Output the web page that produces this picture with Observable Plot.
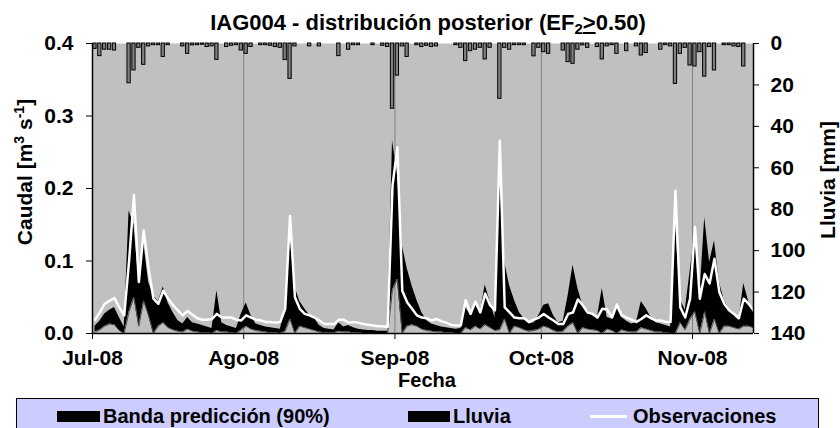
<!DOCTYPE html>
<html><head><meta charset="utf-8">
<script src="https://cdn.jsdelivr.net/npm/d3@7"></script>
<script src="https://cdn.jsdelivr.net/npm/@observablehq/plot@0.6"></script>
<style>
body{margin:0;background:#fff;font-family:"Liberation Sans",Arial,sans-serif;font-weight:bold;color:#000;}
#wrap{position:relative;width:840px;height:428px;overflow:hidden;}
#chart{position:absolute;left:0;top:0;}
#title{position:absolute;left:8px;top:12px;width:840px;text-align:center;font-size:22px;line-height:22px;white-space:nowrap;}
#title .sub{font-size:0.68em;position:relative;top:0.3em;}
#legend{position:absolute;left:16px;top:398px;width:803px;height:40px;box-sizing:border-box;border:1px solid #000;background:#ccccff;}
.sw{position:absolute;}
.lt{position:absolute;top:7px;font-size:20px;line-height:20px;white-space:nowrap;}
</style></head>
<body><div id="wrap">
<div id="chart"></div>
<div id="title">IAG004 - distribución posterior (EF<span class="sub">2</span><u>&gt;</u>0.50)</div>
<div id="legend"></div>
</div>
<script>
// ---- data (daily, starting 2008-07-01) ----
const obs = [
0.019,0.029,0.041,0.045,0.049,0.036,0.025,0.100,0.191,0.071,
0.142,0.089,0.048,0.041,0.059,0.048,0.039,0.032,0.025,0.031,
0.026,0.021,0.019,0.019,0.020,0.027,0.022,0.022,0.022,0.019,
0.018,0.025,0.022,0.019,0.018,0.016,0.016,0.015,0.016,0.034,
0.162,0.050,0.034,0.027,0.025,0.022,0.018,0.013,0.013,0.013,
0.019,0.019,0.015,0.016,0.015,0.013,0.012,0.011,0.010,0.010,
0.009,0.204,0.257,0.059,0.043,0.034,0.025,0.022,0.021,0.018,
0.020,0.017,0.015,0.012,0.011,0.011,0.046,0.027,0.044,0.029,
0.055,0.039,0.032,0.266,0.036,0.029,0.022,0.021,0.021,0.016,
0.019,0.022,0.027,0.022,0.018,0.013,0.013,0.027,0.029,0.047,
0.039,0.029,0.027,0.022,0.034,0.033,0.022,0.040,0.025,0.022,
0.019,0.016,0.020,0.025,0.021,0.018,0.018,0.016,0.016,0.197,
0.036,0.022,0.048,0.147,0.048,0.082,0.069,0.103,0.057,0.041,
0.032,0.027,0.021,0.048,0.041,0.032];
const bandHigh = [
0.010,0.017,0.027,0.032,0.036,0.022,0.009,0.169,0.150,0.071,
0.126,0.071,0.052,0.044,0.064,0.042,0.029,0.018,0.013,0.022,
0.015,0.013,0.011,0.009,0.007,0.059,0.015,0.011,0.009,0.007,
0.027,0.042,0.025,0.013,0.011,0.009,0.008,0.007,0.006,0.034,
0.135,0.064,0.044,0.034,0.025,0.021,0.011,0.007,0.006,0.005,
0.015,0.009,0.011,0.008,0.006,0.005,0.004,0.004,0.003,0.003,
0.003,0.266,0.220,0.121,0.090,0.066,0.046,0.029,0.018,0.013,
0.011,0.009,0.008,0.007,0.006,0.007,0.036,0.025,0.039,0.029,
0.067,0.044,0.022,0.210,0.098,0.066,0.046,0.029,0.020,0.013,
0.015,0.025,0.039,0.041,0.025,0.015,0.017,0.052,0.094,0.062,
0.039,0.032,0.025,0.022,0.062,0.022,0.020,0.034,0.022,0.017,
0.013,0.015,0.044,0.034,0.022,0.015,0.013,0.011,0.009,0.154,
0.048,0.032,0.085,0.138,0.052,0.160,0.098,0.128,0.071,0.046,
0.034,0.025,0.018,0.069,0.044,0.029];
const bandLow = [
0.002,0.005,0.010,0.013,0.012,0.004,0.000,0.030,0.050,0.010,
0.045,0.025,0.000,0.010,0.015,0.008,0.005,0.003,0.002,0.006,
0.003,0.002,0.001,0.001,0.000,0.004,0.002,0.002,0.001,0.000,
0.005,0.010,0.006,0.004,0.003,0.002,0.001,0.001,0.000,0.003,
0.020,0.000,0.010,0.008,0.006,0.004,0.002,0.001,0.001,0.001,
0.003,0.002,0.002,0.001,0.001,0.000,0.000,0.000,0.000,0.000,
0.000,0.060,0.075,0.000,0.010,0.012,0.010,0.006,0.004,0.003,
0.002,0.002,0.001,0.001,0.000,0.000,0.008,0.005,0.010,0.006,
0.012,0.008,0.004,0.005,0.020,0.000,0.010,0.008,0.005,0.003,
0.004,0.006,0.010,0.008,0.004,0.002,0.003,0.010,0.015,0.000,
0.008,0.006,0.005,0.004,0.000,0.006,0.004,0.000,0.005,0.003,
0.002,0.002,0.008,0.006,0.004,0.002,0.002,0.001,0.000,0.000,
0.015,0.005,0.020,0.030,0.000,0.030,0.000,0.020,0.000,0.010,
0.010,0.008,0.006,0.010,0.010,0.008];
const rain = [
2.6,6.1,3.0,3.0,3.4,0,0,19.2,13.0,2.1,
10.3,1.4,0.8,0.8,6.5,0.8,0,0,1.4,5.0,
0.9,0.8,0.6,1.7,1.4,7.9,0,1.7,1.1,0.8,
3.4,5.0,1.7,0,0.8,0.8,1.1,1.7,2.1,8.0,
17.1,1.4,0,0,1.4,0,1.4,0,0,0,
6.1,0,3.0,0.8,0.8,0,0,0.8,0,1.1,
1.7,31.5,15.5,1.4,6.5,0,0.8,1.7,1.1,1.7,
1.4,0,0,0,0.8,2.1,8.5,3.7,3.0,2.1,
7.7,2.1,0,26.7,2.1,3.0,0.8,0.8,0.8,0,
6.2,2.1,4.2,5.0,0,0,3.4,9.0,9.8,3.0,
0.9,2.1,0,1.7,7.7,1.4,0.8,5.0,0,3.7,
0,1.4,5.8,4.6,0,0,3.0,0.8,1.4,19.5,
5.0,2.1,10.6,11.1,4.2,16.0,1.7,13.0,0,0.8,
0.8,1.4,1.7,11.1,0,0];
const monthLabels = ["Jul-08","Ago-08","Sep-08","Oct-08","Nov-08"];
const flowTicks = [0,0.1,0.2,0.3,0.4];
const rainTicks = [0,20,40,60,80,100,120,140];

// ---- build ----
const DAY = 864e5;
const t0 = Date.UTC(2008,6,1);
const monthDates = [6,7,8,9,10].map(m => new Date(Date.UTC(2008,m,1)));
const QMAX = 0.4, RMAX = 140;
const toQ = mm => QMAX - mm * QMAX / RMAX;

const flow = obs.map((v,i) => ({date:new Date(t0 + (i+0.5)*DAY), obs:v, lo:bandLow[i], hi:bandHigh[i]}));
const rainRows = rain.map((r,i) => ({x1:new Date(t0+i*DAY), x2:new Date(t0+(i+1)*DAY), r})).filter(d => d.r > 0);
const x0 = new Date(t0), x1 = new Date(t0 + 135.5*DAY);

const chart = Plot.plot({
  width:840, height:398, marginLeft:92, marginRight:87, marginTop:43, marginBottom:65,
  style:{fontFamily:'"Liberation Sans", Arial, sans-serif', fontWeight:"bold", fontSize:"21px", background:"transparent", color:"#000", overflow:"visible"},
  x:{type:"utc", domain:[x0, x1]},
  y:{domain:[0, QMAX]},
  marks:[
    Plot.frame({fill:"#c0c0c0", stroke:"none"}),
    Plot.ruleX(monthDates.slice(1), {stroke:"#808080", strokeWidth:1}),
    Plot.areaY(flow, {x:"date", y1:"lo", y2:"hi", fill:"#000"}),
    Plot.lineY(flow, {x:"date", y:"lo", stroke:"#505050", strokeWidth:1}),
    Plot.rect(rainRows, {x1:"x1", x2:"x2", y1:() => QMAX, y2:d => toQ(d.r), fill:"#808080", stroke:"#000", strokeWidth:1, insetLeft:0.8, insetRight:0.8}),
    Plot.lineY(flow, {x:"date", y:"obs", stroke:"#fff", strokeWidth:2.5, strokeLinejoin:"round"}),
    Plot.ruleX([x0, x1], {stroke:"#000", strokeWidth:1.5}),
    Plot.ruleY([0], {stroke:"#000", strokeWidth:1.5}),
    Plot.axisY({ticks:flowTicks, tickFormat:d3.format(".1f"), tickSize:6, tickPadding:13, fontSize:21, label:null}),
    Plot.axisY({anchor:"right", ticks:rainTicks.map(toQ), tickFormat:d => String(Math.round((QMAX - d) * RMAX / QMAX)), tickSize:5, tickPadding:12, fontSize:21, label:null}),
    Plot.axisX({ticks:monthDates, tickFormat:d => monthLabels[monthDates.findIndex(m => +m === +d)], tickSize:6, tickPadding:11, fontSize:21, label:null})
  ]
});
document.getElementById("chart").appendChild(chart);

const svg = d3.select(chart);
// left axis title
const lt = svg.append("text").attr("transform","translate(32,172) rotate(-90)")
  .attr("text-anchor","middle").attr("font-size",21).attr("font-weight","bold").attr("fill","#000");
lt.append("tspan").text("Caudal [m");
lt.append("tspan").attr("font-size",14).attr("dy",-8).text("3");
lt.append("tspan").attr("dy",8).text(" s");
lt.append("tspan").attr("font-size",14).attr("dy",-8).text("-1");
lt.append("tspan").attr("dy",8).text("]");
// right axis title
svg.append("text").attr("transform","translate(835,180) rotate(-90)")
  .attr("text-anchor","middle").attr("font-size",21).attr("font-weight","bold").attr("fill","#000")
  .text("Lluvia [mm]");
// x title
svg.append("text").attr("x",427).attr("y",387).attr("text-anchor","middle")
  .attr("font-size",20).attr("font-weight","bold").attr("fill","#000").text("Fecha");

// legend
const legendItems = [
  {label:"Banda predicción (90%)", kind:"box", sx:40, sw:43, tx:86},
  {label:"Lluvia", kind:"box", sx:391, sw:42, tx:436},
  {label:"Observaciones", kind:"line", sx:573, sw:37, tx:616}
];
const lg = d3.select("#legend");
legendItems.forEach(it => {
  const s = lg.append("div").attr("class","sw").style("left", it.sx+"px").style("width", it.sw+"px");
  if (it.kind === "box") s.style("top","12px").style("height","11px").style("background","#000");
  else s.style("top","16px").style("height","3px").style("background","#fff");
  lg.append("div").attr("class","lt").style("left", it.tx+"px").text(it.label);
});
</script>
</body></html>
